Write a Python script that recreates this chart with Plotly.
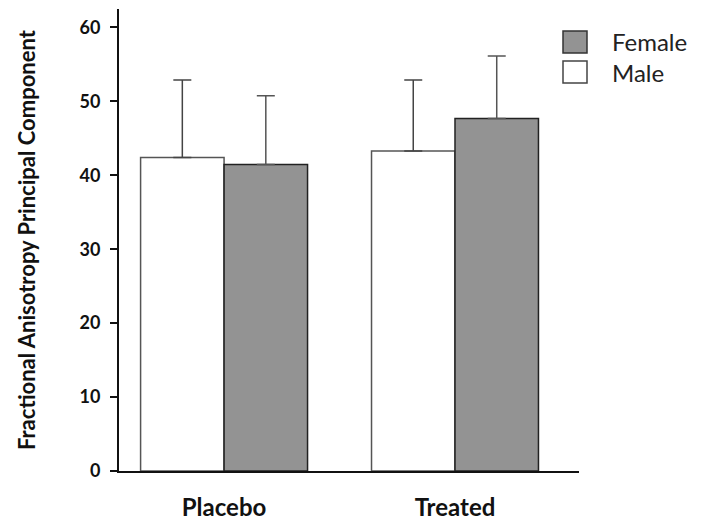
import plotly.graph_objects as go

categories = ["Placebo", "Treated"]
male_values = [42.4, 43.3]
female_values = [41.45, 47.7]
male_err = [10.5, 9.6]
female_err = [9.3, 8.45]
y_ticks = [0, 10, 20, 30, 40, 50, 60]

FONT = "Lato"
# The page body has an 8px margin; figure coordinates below are relative to the figure.
W, H = 696, 524
L, R, T, B = 111, 125, 1, 61
PW, PH = W - L - R, H - T - B


def px_x(x):
    return (x - 8 - L) / PW


def px_y(y):
    return (H - B - (y - 8)) / PH


fig = go.Figure()
fig.add_trace(go.Bar(
    name="Male", x=categories, y=male_values,
    marker=dict(color="white", line=dict(color="#555555", width=1.5)),
    error_y=dict(type="data", array=male_err, arrayminus=[0, 0], symmetric=False,
                 color="#444444", thickness=1.5, width=9),
    showlegend=False,
))
fig.add_trace(go.Bar(
    name="Female", x=categories, y=female_values,
    marker=dict(color="#939393", line=dict(color="#222222", width=1.5)),
    error_y=dict(type="data", array=female_err, arrayminus=[0, 0], symmetric=False,
                 color="#555555", thickness=1.5, width=9),
    showlegend=False,
))

fig.update_layout(
    width=W, height=H,
    margin=dict(l=L, r=R, t=T, b=B),
    paper_bgcolor="white", plot_bgcolor="white",
    barmode="group", bargap=0.277, bargroupgap=0,
    font=dict(family=FONT, color="#111111"),
    xaxis=dict(
        range=[-0.455, 1.537], showline=True, linecolor="#111111", linewidth=2,
        showgrid=False, ticks="", zeroline=False, ticklabelstandoff=14,
        tickfont=dict(family=FONT, size=24, color="#111111", weight="bold"),
    ),
    yaxis=dict(
        range=[0, 62.5], tickvals=y_ticks, showline=True, linecolor="#111111",
        linewidth=2, showgrid=False, zeroline=False, ticks="outside", ticklen=7,
        tickwidth=1.5, tickcolor="#111111", ticklabelstandoff=6,
        tickfont=dict(family=FONT, size=18, color="#111111", weight="bold"),
    ),
    annotations=[
        dict(text="Fractional Anisotropy Principal Component", xref="paper", yref="paper",
             x=px_x(26), y=px_y(240), xanchor="center", yanchor="middle", textangle=-90,
             showarrow=False, font=dict(family=FONT, size=22, color="#111111", weight="bold")),
        dict(text="Female", xref="paper", yref="paper", x=px_x(610), y=px_y(42),
             xanchor="left", yanchor="middle", showarrow=False,
             font=dict(family=FONT, size=24, color="#222222")),
        dict(text="Male", xref="paper", yref="paper", x=px_x(610), y=px_y(73),
             xanchor="left", yanchor="middle", showarrow=False,
             font=dict(family=FONT, size=24, color="#222222")),
    ],
    shapes=[
        dict(type="rect", xref="paper", yref="paper",
             x0=px_x(563), x1=px_x(587), y0=px_y(53), y1=px_y(31),
             fillcolor="#939393", line=dict(color="#333333", width=1.5)),
        dict(type="rect", xref="paper", yref="paper",
             x0=px_x(563), x1=px_x(587), y0=px_y(83), y1=px_y(61),
             fillcolor="white", line=dict(color="#444444", width=1.5)),
    ],
)

fig.write_html("out.html")
